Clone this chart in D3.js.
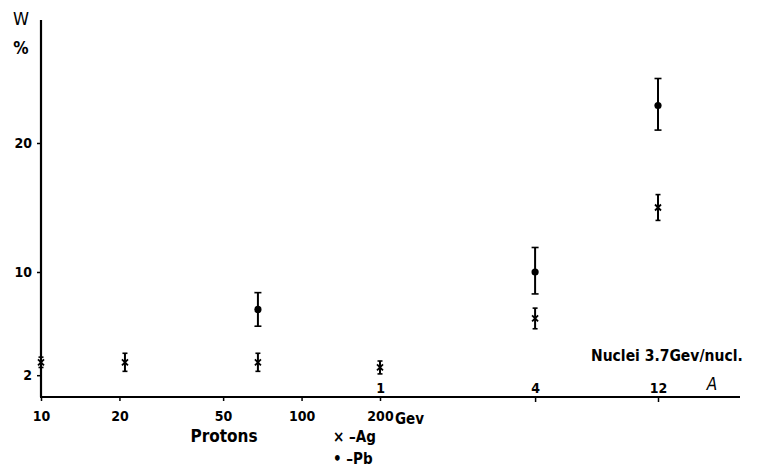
<!DOCTYPE html>
<html>
<head>
<meta charset="utf-8">
<script src="https://cdn.jsdelivr.net/npm/d3@7"></script>
<style>
  body { margin: 0; background: #fff; }
  text { font-family: "DejaVu Sans Condensed", "DejaVu Sans", sans-serif; font-weight: bold; fill: #000; }
</style>
</head>
<body>
<div id="chart"></div>
<script>
// proton energies (GeV) and W (%) values
var protonE = [10, 21, 68, 200];
var agProton = [3.0, 3.0, 3.0, 2.6];
var agProtonErr = [0.4, 0.7, 0.7, 0.5];
var pbProtonE = [68];
var pbProton = [7.1];
var pbProtonLo = [5.8];
var pbProtonHi = [8.4];

// nuclei, 3.7 GeV/nucleon
var nucleiA = [4, 12];
var agNuclei = [6.4, 15.0];
var agNucleiErr = [0.8, 1.0];
var pbNuclei = [10.0, 22.9];
var pbNucleiLo = [8.3, 21.0];
var pbNucleiHi = [11.9, 25.0];

var yTicks = [2, 10, 20];
var protonTicks = [10, 20, 50, 100, 200];
var nucleiLabels = [1, 4, 12];
var nucleiTicks = [4, 12];

var width = 766, height = 470;

var svg = d3.select("#chart").append("svg")
  .attr("width", width)
  .attr("height", height);

var y = d3.scaleLinear().domain([0, 20]).range([401, 143]);
var xP = d3.scaleLog().domain([10, 200]).range([41, 380]);
var xN = d3.scaleLog().domain([1, 12]).range([380, 658]);
var axisY = 397;

// axis lines (hand drawn in the original)
svg.append("line")
  .attr("x1", 41).attr("y1", 20).attr("x2", 41).attr("y2", axisY)
  .attr("stroke", "#000").attr("stroke-width", 2.2);
svg.append("line")
  .attr("x1", 40).attr("y1", axisY).attr("x2", 740).attr("y2", axisY)
  .attr("stroke", "#000").attr("stroke-width", 1.8);

// y axis
var yAxis = svg.append("g")
  .attr("transform", "translate(41,0)")
  .call(d3.axisLeft(y).tickValues(yTicks).tickSize(4).tickPadding(5));
yAxis.select(".domain").remove();
yAxis.selectAll("line").attr("stroke-width", 1.5);
yAxis.selectAll("text").style("font-size", "14px")
  .style("font-family", "DejaVu Sans Condensed, DejaVu Sans").style("font-weight", "bold");

svg.append("text").attr("x", 21).attr("y", 25).attr("text-anchor", "middle")
  .style("font-size", "18px").style("font-weight", "normal").text("W");
svg.append("text").attr("x", 21).attr("y", 54).attr("text-anchor", "middle")
  .style("font-size", "17px").text("%");

// proton axis
var pAxis = svg.append("g")
  .attr("transform", "translate(0," + axisY + ")")
  .call(d3.axisBottom(xP).tickValues(protonTicks).tickSize(4).tickPadding(10)
    .tickFormat(d3.format("d")));
pAxis.select(".domain").remove();
pAxis.selectAll("line").attr("stroke-width", 1.5);
pAxis.selectAll("text").style("font-size", "14px")
  .style("font-family", "DejaVu Sans Condensed, DejaVu Sans").style("font-weight", "bold");

svg.append("text").attr("x", 395).attr("y", 424)
  .style("font-size", "15px").text("Gev");
svg.append("text").attr("x", 224).attr("y", 442).attr("text-anchor", "middle")
  .style("font-size", "17px").text("Protons");

// nuclei axis: ticks below, labels above
var nTicks = svg.append("g")
  .attr("transform", "translate(0," + axisY + ")")
  .call(d3.axisBottom(xN).tickValues(nucleiTicks).tickSize(5).tickFormat(""));
nTicks.select(".domain").remove();
nTicks.selectAll("line").attr("stroke-width", 1.5);

var nLabels = svg.append("g")
  .attr("transform", "translate(0," + axisY + ")")
  .call(d3.axisTop(xN).tickValues(nucleiLabels).tickSize(0).tickPadding(4)
    .tickFormat(d3.format("d")));
nLabels.select(".domain").remove();
nLabels.selectAll("text").style("font-size", "14px")
  .style("font-family", "DejaVu Sans Condensed, DejaVu Sans").style("font-weight", "bold");

svg.append("text").attr("x", 591).attr("y", 361)
  .style("font-size", "15.5px").text("Nuclei 3.7Gev/nucl.");
svg.append("text").attr("x", 712).attr("y", 390).attr("text-anchor", "middle")
  .style("font-size", "17px").style("font-style", "italic").style("font-weight", "normal").text("A");

// legend
svg.append("text").attr("x", 333).attr("y", 442).style("font-size", "15px").text("\u00d7 \u2013Ag");
svg.append("text").attr("x", 333).attr("y", 464).style("font-size", "15px").text("\u2022 \u2013Pb");

// Ag points: crosses with small error bars
function drawAg(xs, vals, errs, sx) {
  var g = svg.append("g");
  xs.forEach(function(e, i) {
    var cx = sx(e), cy = y(vals[i]);
    var y1 = y(vals[i] + errs[i]), y2 = y(vals[i] - errs[i]);
    g.append("line").attr("x1", cx).attr("x2", cx).attr("y1", y1).attr("y2", y2)
      .attr("stroke", "#000").attr("stroke-width", 2);
    [y1, y2].forEach(function(yy) {
      g.append("line").attr("x1", cx - 2.5).attr("x2", cx + 2.5).attr("y1", yy).attr("y2", yy)
        .attr("stroke", "#000").attr("stroke-width", 1.6);
    });
    g.append("path")
      .attr("d", "M" + (cx - 3) + "," + (cy - 3) + "L" + (cx + 3) + "," + (cy + 3) +
                 "M" + (cx - 3) + "," + (cy + 3) + "L" + (cx + 3) + "," + (cy - 3))
      .attr("stroke", "#000").attr("stroke-width", 1.8);
  });
}

// Pb points: dots with error bars
function drawPb(xs, vals, lo, hi, sx) {
  var g = svg.append("g");
  xs.forEach(function(e, i) {
    var cx = sx(e);
    g.append("line").attr("x1", cx).attr("x2", cx).attr("y1", y(hi[i])).attr("y2", y(lo[i]))
      .attr("stroke", "#000").attr("stroke-width", 2);
    [hi[i], lo[i]].forEach(function(v) {
      g.append("line").attr("x1", cx - 3.5).attr("x2", cx + 3.5).attr("y1", y(v)).attr("y2", y(v))
        .attr("stroke", "#000").attr("stroke-width", 1.6);
    });
    g.append("circle").attr("cx", cx).attr("cy", y(vals[i])).attr("r", 3.6).attr("fill", "#000");
  });
}

drawAg(protonE, agProton, agProtonErr, xP);
drawAg(nucleiA, agNuclei, agNucleiErr, xN);
drawPb(pbProtonE, pbProton, pbProtonLo, pbProtonHi, xP);
drawPb(nucleiA, pbNuclei, pbNucleiLo, pbNucleiHi, xN);
</script>
</body>
</html>
